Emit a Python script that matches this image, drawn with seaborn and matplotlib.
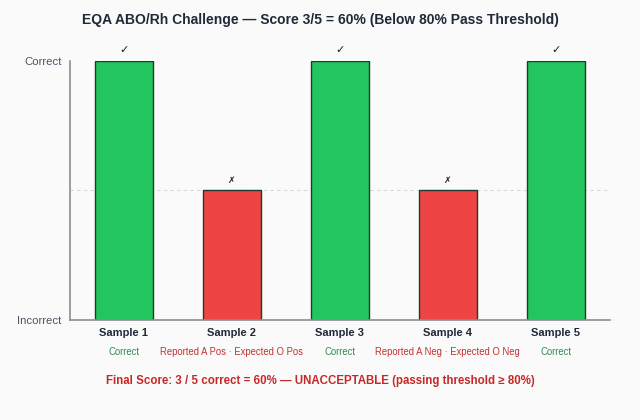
import pandas as pd
import matplotlib.pyplot as plt
import seaborn as sns

# EQA challenge results
samples = ["Sample 1", "Sample 2", "Sample 3", "Sample 4", "Sample 5"]
scores = [1.0, 0.5, 1.0, 0.5, 1.0]
results = ["Correct", "Wrong", "Correct", "Wrong", "Correct"]
details = ["Correct", "Reported A Pos · Expected O Pos", "Correct",
           "Reported A Neg · Expected O Neg", "Correct"]
marks = ["✓", "✗", "✓", "✗", "✓"]

df = pd.DataFrame({"sample": samples, "score": scores, "result": results})

sns.set_style("white")
plt.rcParams["font.family"] = ["Liberation Sans", "DejaVu Sans"]

bg = "#fafafa"
fig = plt.figure(figsize=(6.4, 4.2), dpi=100, facecolor=bg)
ax = fig.add_axes([0.109, 0.238, 0.844, 0.617], facecolor=bg)

sns.barplot(
    data=df, x="sample", y="score", hue="result",
    palette={"Correct": "#22c55e", "Wrong": "#ef4444"},
    saturation=1, edgecolor="#1f3b2c", linewidth=1.0, width=0.54,
    dodge=False, legend=False, ax=ax
)

ax.axhline(0.5, color="#d4d8dd", linestyle=(0, (3, 3)), linewidth=0.8, zorder=0)

ax.set_xlim(-0.5, 4.5)
ax.set_ylim(0, 1)
ax.set_yticks([0, 1])
ax.set_yticklabels(["Incorrect", "Correct"], color="#4b5563", fontsize=8.2)
ax.set_xticks(range(len(samples)))
ax.set_xticklabels([])
ax.tick_params(length=0, pad=6)
ax.set_xlabel("")
ax.set_ylabel("")

for side in ["top", "right"]:
    ax.spines[side].set_visible(False)
for side in ["left", "bottom"]:
    ax.spines[side].set_color("#8a8f96")
    ax.spines[side].set_linewidth(1.2)

# marks above bars
for i, (s, m) in enumerate(zip(scores, marks)):
    ax.annotate(m, (i, s), xytext=(0, 4), textcoords="offset points",
                ha="center", va="bottom", fontsize=8 if m == "✓" else 6.5,
                color="#222222", family="DejaVu Sans", annotation_clip=False)

# category labels
for i, (name, det, res) in enumerate(zip(samples, details, results)):
    ax.annotate(name, (i, 0), xytext=(0, -6), textcoords="offset points",
                ha="center", va="top", fontsize=8, fontweight="bold",
                color="#1f2937", annotation_clip=False)
    ax.annotate(det, (i, 0), xytext=(0, -19.5), textcoords="offset points",
                ha="center", va="top", fontsize=6.85,
                color="#2e8b4e" if res == "Correct" else "#c53030",
                annotation_clip=False)

fig.text(0.5, 0.952, "EQA ABO/Rh Challenge — Score 3/5 = 60% (Below 80% Pass Threshold)",
         ha="center", va="center", fontsize=10, fontweight="bold", color="#1f2937")
fig.text(0.5, 0.093,
         "Final Score: 3 / 5 correct = 60% — UNACCEPTABLE (passing threshold ≥ 80%)",
         ha="center", va="center", fontsize=8.3, fontweight="bold", color="#c62828")

plt.savefig("out.png", dpi=100, facecolor=bg)
